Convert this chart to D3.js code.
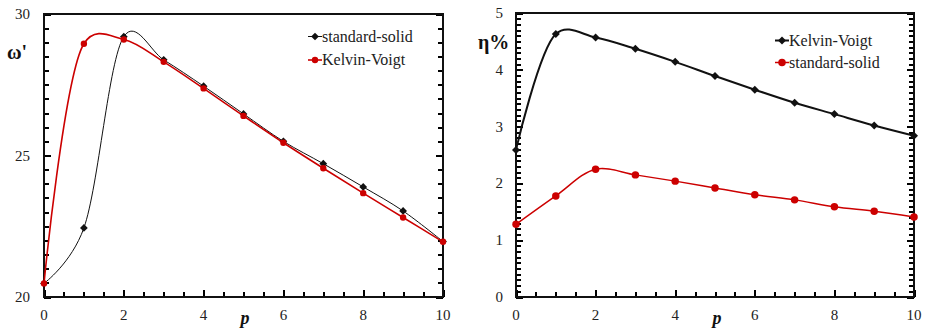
<!DOCTYPE html>
<html><head><meta charset="utf-8">
<script src="https://cdn.jsdelivr.net/npm/d3@7"></script>
<style>body{margin:0;background:#fff}svg{display:block}</style>
</head><body><svg id="c" width="926" height="332"></svg>
<script>
const pValues = [0,1,2,3,4,5,6,7,8,9,10];
const xTicks = [0,2,4,6,8,10];
// Left chart: omega'
const omegaStandardSolid = [20.48,22.44,29.20,28.38,27.45,26.47,25.50,24.71,23.89,23.04,21.96];
const omegaKelvinVoigt   = [20.48,28.95,29.10,28.31,27.37,26.40,25.45,24.55,23.67,22.81,21.95];
const omegaTicks = [20,25,30];
// Right chart: eta %
const etaKelvinVoigt   = [2.59,4.63,4.57,4.37,4.14,3.89,3.65,3.42,3.22,3.02,2.84];
const etaStandardSolid = [1.28,1.78,2.25,2.15,2.04,1.92,1.80,1.71,1.59,1.51,1.41];
const etaTicks = [0,1,2,3,4,5];

const RED = "#cc0000";
const FONT = "Liberation Serif";
const svg = d3.select("#c");

function tickAxis(g, axis, tr, len){
  const a = g.append("g").attr("transform",tr).call(axis);
  a.select(".domain").remove();
  a.selectAll("text").remove();
  a.selectAll("line").attr("stroke","#000").attr("stroke-width",2).attr("shape-rendering","crispEdges");
  return a;
}

function panel(o){
  const g = svg.append("g");
  const x = d3.scaleLinear().domain([0,10]).range([o.x0,o.x1]);
  const y = d3.scaleLinear().domain(o.ydom).range([o.y1,o.y0]);
  const xm = d3.range(0,10.001,0.5).filter(d=>Math.abs(d%2)>1e-6);
  const ym = d3.range(o.ydom[0],o.ydom[1]+1e-6,o.minor).filter(d=>!o.yticks.some(t=>Math.abs(t-d)<1e-6));
  // bottom ticks (inside)
  tickAxis(g, d3.axisBottom(x).tickValues(xm).tickSize(-5), `translate(0,${o.y1})`);
  tickAxis(g, d3.axisBottom(x).tickValues(xTicks).tickSize(-7), `translate(0,${o.y1})`);
  // left & right ticks (inside)
  tickAxis(g, d3.axisLeft(y).tickValues(ym).tickSize(-5), `translate(${o.x0},0)`);
  tickAxis(g, d3.axisLeft(y).tickValues(o.yticks).tickSize(-7), `translate(${o.x0},0)`);
  tickAxis(g, d3.axisRight(y).tickValues(ym).tickSize(-5), `translate(${o.x1},0)`);
  tickAxis(g, d3.axisRight(y).tickValues(o.yticks).tickSize(-7), `translate(${o.x1},0)`);
  g.append("rect").attr("x",o.x0).attr("y",o.y0).attr("width",o.x1-o.x0).attr("height",o.y1-o.y0)
    .attr("fill","none").attr("stroke","#111").attr("stroke-width",2);
  g.selectAll(".xl").data(xTicks).join("text").attr("x",d=>x(d)).attr("y",o.y1+23)
    .attr("font-family",FONT).attr("text-anchor","middle").attr("font-size",15).attr("fill","#222").text(d=>d);
  g.selectAll(".yl").data(o.yticks).join("text").attr("x",o.ylx).attr("y",d=>y(d)+5)
    .attr("font-family",FONT).attr("text-anchor","end").attr("font-size",15).attr("fill","#222").text(d=>d);
  g.append("text").attr("x",o.px).attr("y",o.y1+27).attr("font-size",18).attr("font-weight","bold")
    .attr("font-family",FONT).attr("font-style","italic").attr("text-anchor","middle").attr("fill","#111").text("p");
  g.append("text").attr("x",o.tx).attr("y",o.ty).attr("font-size",20).attr("font-weight","bold")
    .attr("font-family",FONT).attr("fill","#111").text(o.title);
  o.series.forEach(s=>{
    const line = d3.line().x((d,i)=>x(pValues[i])).y(d=>y(d)).curve(d3.curveCatmullRom.alpha(s.alpha));
    g.append("path").attr("d",line(s.v)).attr("fill","none").attr("stroke",s.color).attr("stroke-width",s.lw);
    const sym = d3.symbol().type(s.shape==="diamond"?d3.symbolSquare:d3.symbolCircle).size(s.msize);
    g.selectAll(null).data(s.v).join("path")
      .attr("d",sym)
      .attr("transform",(d,i)=>`translate(${x(pValues[i])},${y(d)})`+(s.shape==="diamond"?" rotate(45)":""))
      .attr("fill",s.color);
  });
  o.legend.forEach((s,k)=>{
    const ly = o.ly + k*o.lgap;
    g.append("line").attr("x1",o.lx).attr("x2",o.lx+14).attr("y1",ly).attr("y2",ly)
      .attr("stroke",s.color).attr("stroke-width",s.lw);
    const sym = d3.symbol().type(s.shape==="diamond"?d3.symbolSquare:d3.symbolCircle).size(s.msize);
    g.append("path").attr("d",sym).attr("transform",`translate(${o.lx+7},${ly})`+(s.shape==="diamond"?" rotate(45)":""))
      .attr("fill",s.color);
    g.append("text").attr("x",o.lx+14).attr("y",ly+5).attr("font-size",16).attr("font-family",FONT)
      .attr("fill","#222").text(s.name);
  });
}

const lSS = {name:"standard-solid",v:omegaStandardSolid,color:"#111",lw:1,shape:"diamond",msize:30,alpha:0.15};
const lKV = {name:"Kelvin-Voigt",v:omegaKelvinVoigt,color:RED,lw:1.6,shape:"circle",msize:32,alpha:0.3};
panel({x0:44,x1:443,y0:14,y1:297,ydom:[20,30],minor:0.5,yticks:omegaTicks,ylx:30,
  px:245,tx:7,ty:59,title:"ω'",series:[lSS,lKV],legend:[lSS,lKV],lx:308,ly:36.5,lgap:23.5});

const rKV = {name:"Kelvin-Voigt",v:etaKelvinVoigt,color:"#111",lw:2,shape:"diamond",msize:32,alpha:0.3};
const rSS = {name:"standard-solid",v:etaStandardSolid,color:RED,lw:1.5,shape:"circle",msize:44,alpha:0.5};
panel({x0:516,x1:914,y0:13,y1:297,ydom:[0,5],minor:0.1,yticks:etaTicks,ylx:503,
  px:717,tx:478,ty:49,title:"η%",series:[rKV,rSS],legend:[rKV,rSS],lx:775,ly:40.5,lgap:22});
</script></body></html>
